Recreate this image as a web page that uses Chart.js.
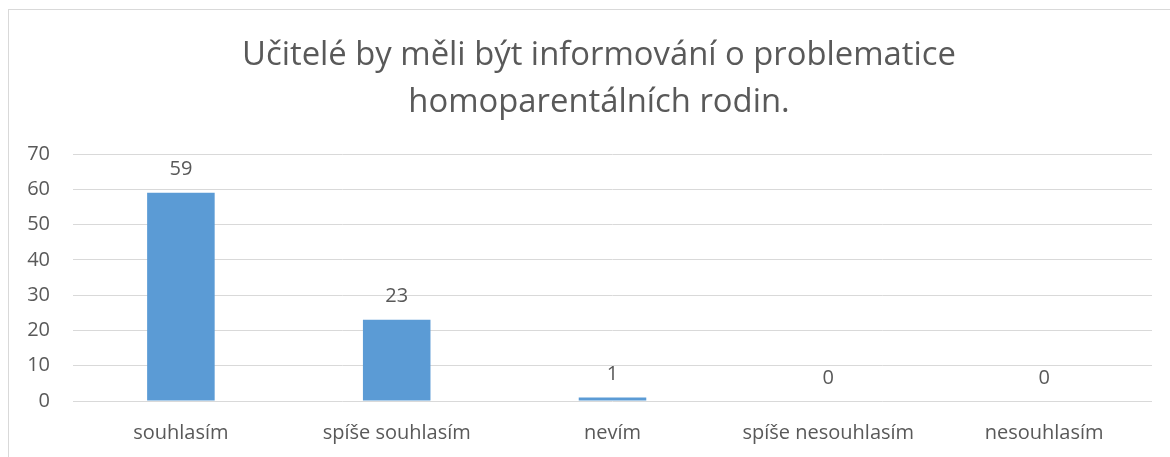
<!DOCTYPE html>
<html>
<head>
<meta charset="utf-8">
<script src="https://cdn.jsdelivr.net/npm/chart.js@4"></script>
<style>
  html, body { margin: 0; padding: 0; background: #fff; width: 1170px; height: 457px; overflow: hidden; }
  #frame { position: absolute; left: 8px; top: 9px; width: 1200px; height: 500px; border-top: 1px solid #d9d9d9; border-left: 1px solid #d9d9d9; }
  #wrap { position: absolute; left: 0; top: 0; width: 1170px; height: 457px; }
</style>
</head>
<body>
<div id="frame"></div>
<div id="wrap"><canvas id="c" width="1170" height="457"></canvas></div>
<script>
const titleLines = ['Učitelé by měli být informování o problematice', 'homoparentálních rodin.'];
const categories = ['souhlasím', 'spíše souhlasím', 'nevím', 'spíše nesouhlasím', 'nesouhlasím'];
const values = [59, 23, 1, 0, 0];
const yTicks = [0, 10, 20, 30, 40, 50, 60, 70];

const FONT = "'Open Sans', sans-serif";
const TEXT = '#595959';

// Chart title, centred on the (wider) chart frame as in the reference
const chartTitle = {
  id: 'chartTitle',
  afterDraw(chart) {
    const ctx = chart.ctx;
    ctx.save();
    ctx.font = "32.8px " + FONT;
    ctx.fillStyle = TEXT;
    ctx.textAlign = 'center';
    ctx.textBaseline = 'alphabetic';
    titleLines.forEach((line, i) => ctx.fillText(line, 599, 65 + i * 46.5));
    ctx.restore();
  }
};

const valueLabels = {
  id: 'valueLabels',
  afterDatasetsDraw(chart) {
    const ctx = chart.ctx;
    const meta = chart.getDatasetMeta(0);
    ctx.save();
    ctx.font = "20px " + FONT;
    ctx.fillStyle = TEXT;
    ctx.textAlign = 'center';
    ctx.textBaseline = 'alphabetic';
    meta.data.forEach((bar, i) => {
      ctx.fillText(String(values[i]), bar.x, bar.y - 17.5);
    });
    ctx.restore();
  }
};

new Chart(document.getElementById('c'), {
  type: 'bar',
  data: {
    labels: categories,
    datasets: [{
      data: values,
      backgroundColor: '#5B9BD5',
      borderWidth: 0,
      barPercentage: 0.313,
      categoryPercentage: 1
    }]
  },
  options: {
    responsive: false,
    animation: false,
    layout: { padding: { left: 0, right: 18, top: 154, bottom: 0 } },
    plugins: {
      legend: { display: false },
      tooltip: { enabled: false },
      title: { display: false }
    },
    scales: {
      x: {
        grid: { display: false, drawTicks: false },
        border: { display: false },
        ticks: { color: TEXT, font: { family: FONT, size: 20 }, padding: 20, maxRotation: 0 },
        afterFit(s) { s.height = 56; }
      },
      y: {
        min: 0, max: 70,
        afterBuildTicks(s) { s.ticks = yTicks.map(v => ({ value: v })); },
        grid: { color: '#d9d9d9', lineWidth: 1, drawTicks: false },
        border: { display: false },
        ticks: { color: TEXT, font: { family: FONT, size: 20 }, padding: 23 },
        afterFit(s) { s.width = 73; }
      }
    }
  },
  plugins: [valueLabels, chartTitle]
});
</script>
</body>
</html>
